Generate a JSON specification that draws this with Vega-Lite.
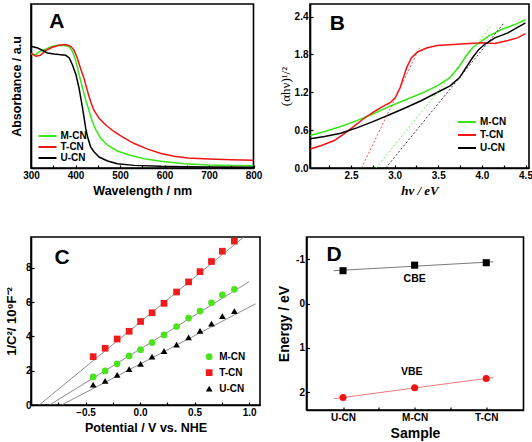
{
"$schema": "https://vega.github.io/schema/vega-lite/v6.json",
"padding": {"left": 4, "top": 3, "right": 0, "bottom": 0},
"background": "white",
"config": {
  "view": {"stroke": "black", "strokeWidth": 1.6},
  "font": "Liberation Sans",
  "axis": {"domainColor": "black", "domainWidth": 1.6, "tickColor": "black", "tickWidth": 1.2, "tickSize": -3, "labelFont": "Liberation Sans", "labelFontWeight": "bold", "labelFontSize": 10, "labelColor": "black", "titleFont": "Liberation Sans", "titleFontWeight": "bold", "titleFontSize": 12.5, "titleColor": "black", "grid": false, "labelPadding": 5, "titlePadding": 4, "labelFlush": false, "labelOverlap": false},
  "legend": {"labelFont": "Liberation Sans", "labelFontWeight": "bold", "labelFontSize": 10, "labelColor": "black", "padding": 0, "rowPadding": 0, "titlePadding": 0}
},
"resolve": {"scale": {"color": "independent", "shape": "independent", "fill": "independent", "size": "independent"}, "legend": {"color": "independent", "shape": "independent", "fill": "independent"}},
"datasets": {
  "absA": [
    {"s":"M-CN","nm":300,"a":0.695},{"s":"M-CN","nm":311,"a":0.691},{"s":"M-CN","nm":318,"a":0.708},{"s":"M-CN","nm":330,"a":0.722},{"s":"M-CN","nm":345,"a":0.739},{"s":"M-CN","nm":360,"a":0.749},{"s":"M-CN","nm":375,"a":0.747},{"s":"M-CN","nm":386,"a":0.739},{"s":"M-CN","nm":393,"a":0.712},{"s":"M-CN","nm":401,"a":0.651},{"s":"M-CN","nm":408,"a":0.569},{"s":"M-CN","nm":416,"a":0.487},{"s":"M-CN","nm":423,"a":0.415},{"s":"M-CN","nm":431,"a":0.344},{"s":"M-CN","nm":438,"a":0.282},{"s":"M-CN","nm":446,"a":0.231},{"s":"M-CN","nm":457,"a":0.180},{"s":"M-CN","nm":472,"a":0.139},{"s":"M-CN","nm":494,"a":0.104},{"s":"M-CN","nm":517,"a":0.082},{"s":"M-CN","nm":554,"a":0.057},{"s":"M-CN","nm":592,"a":0.041},{"s":"M-CN","nm":644,"a":0.026},{"s":"M-CN","nm":700,"a":0.018},{"s":"M-CN","nm":750,"a":0.015},{"s":"M-CN","nm":800,"a":0.013},
    {"s":"T-CN","nm":300,"a":0.701},{"s":"T-CN","nm":311,"a":0.681},{"s":"T-CN","nm":321,"a":0.687},{"s":"T-CN","nm":333,"a":0.716},{"s":"T-CN","nm":348,"a":0.736},{"s":"T-CN","nm":363,"a":0.749},{"s":"T-CN","nm":378,"a":0.753},{"s":"T-CN","nm":389,"a":0.742},{"s":"T-CN","nm":396,"a":0.722},{"s":"T-CN","nm":404,"a":0.671},{"s":"T-CN","nm":411,"a":0.610},{"s":"T-CN","nm":419,"a":0.548},{"s":"T-CN","nm":426,"a":0.477},{"s":"T-CN","nm":434,"a":0.405},{"s":"T-CN","nm":441,"a":0.354},{"s":"T-CN","nm":453,"a":0.303},{"s":"T-CN","nm":468,"a":0.262},{"s":"T-CN","nm":487,"a":0.221},{"s":"T-CN","nm":509,"a":0.184},{"s":"T-CN","nm":532,"a":0.149},{"s":"T-CN","nm":562,"a":0.115},{"s":"T-CN","nm":592,"a":0.088},{"s":"T-CN","nm":622,"a":0.072},{"s":"T-CN","nm":652,"a":0.061},{"s":"T-CN","nm":700,"a":0.055},{"s":"T-CN","nm":750,"a":0.050},{"s":"T-CN","nm":800,"a":0.048},
    {"s":"U-CN","nm":300,"a":0.742},{"s":"U-CN","nm":315,"a":0.732},{"s":"U-CN","nm":330,"a":0.712},{"s":"U-CN","nm":337,"a":0.701},{"s":"U-CN","nm":352,"a":0.695},{"s":"U-CN","nm":367,"a":0.691},{"s":"U-CN","nm":378,"a":0.687},{"s":"U-CN","nm":386,"a":0.671},{"s":"U-CN","nm":393,"a":0.630},{"s":"U-CN","nm":401,"a":0.569},{"s":"U-CN","nm":408,"a":0.487},{"s":"U-CN","nm":412,"a":0.425},{"s":"U-CN","nm":416,"a":0.364},{"s":"U-CN","nm":419.5,"a":0.302},{"s":"U-CN","nm":423,"a":0.241},{"s":"U-CN","nm":427,"a":0.190},{"s":"U-CN","nm":434,"a":0.129},{"s":"U-CN","nm":442,"a":0.098},{"s":"U-CN","nm":453,"a":0.067},{"s":"U-CN","nm":472,"a":0.043},{"s":"U-CN","nm":494,"a":0.026},{"s":"U-CN","nm":532,"a":0.016},{"s":"U-CN","nm":592,"a":0.010},{"s":"U-CN","nm":644,"a":0.008},{"s":"U-CN","nm":700,"a":0.006},{"s":"U-CN","nm":800,"a":0.005}
  ],
  "absB": [
    {"s":"M-CN","e":2.033,"v":0.515},{"s":"M-CN","e":2.198,"v":0.578},{"s":"M-CN","e":2.382,"v":0.657},{"s":"M-CN","e":2.566,"v":0.751},{"s":"M-CN","e":2.751,"v":0.856},{"s":"M-CN","e":2.934,"v":0.972},{"s":"M-CN","e":3.119,"v":1.077},{"s":"M-CN","e":3.303,"v":1.181},{"s":"M-CN","e":3.487,"v":1.302},{"s":"M-CN","e":3.635,"v":1.433},{"s":"M-CN","e":3.745,"v":1.617},{"s":"M-CN","e":3.818,"v":1.775},{"s":"M-CN","e":3.892,"v":1.906},{"s":"M-CN","e":3.966,"v":1.984},{"s":"M-CN","e":4.077,"v":2.09},{"s":"M-CN","e":4.224,"v":2.195},{"s":"M-CN","e":4.371,"v":2.27},{"s":"M-CN","e":4.5,"v":2.35},
    {"s":"T-CN","e":2.033,"v":0.30},{"s":"T-CN","e":2.161,"v":0.357},{"s":"T-CN","e":2.309,"v":0.436},{"s":"T-CN","e":2.419,"v":0.541},{"s":"T-CN","e":2.53,"v":0.657},{"s":"T-CN","e":2.64,"v":0.777},{"s":"T-CN","e":2.751,"v":0.882},{"s":"T-CN","e":2.861,"v":0.972},{"s":"T-CN","e":2.953,"v":1.039},{"s":"T-CN","e":3.008,"v":1.118},{"s":"T-CN","e":3.064,"v":1.276},{"s":"T-CN","e":3.1,"v":1.433},{"s":"T-CN","e":3.138,"v":1.591},{"s":"T-CN","e":3.193,"v":1.748},{"s":"T-CN","e":3.266,"v":1.843},{"s":"T-CN","e":3.376,"v":1.906},{"s":"T-CN","e":3.487,"v":1.943},{"s":"T-CN","e":3.671,"v":1.959},{"s":"T-CN","e":3.856,"v":1.974},{"s":"T-CN","e":4.003,"v":1.984},{"s":"T-CN","e":4.15,"v":1.975},{"s":"T-CN","e":4.298,"v":2.022},{"s":"T-CN","e":4.408,"v":2.063},{"s":"T-CN","e":4.5,"v":2.13},
    {"s":"U-CN","e":2.033,"v":0.463},{"s":"U-CN","e":2.198,"v":0.499},{"s":"U-CN","e":2.382,"v":0.551},{"s":"U-CN","e":2.566,"v":0.636},{"s":"U-CN","e":2.751,"v":0.735},{"s":"U-CN","e":2.934,"v":0.841},{"s":"U-CN","e":3.119,"v":0.951},{"s":"U-CN","e":3.303,"v":1.066},{"s":"U-CN","e":3.487,"v":1.197},{"s":"U-CN","e":3.635,"v":1.302},{"s":"U-CN","e":3.745,"v":1.433},{"s":"U-CN","e":3.818,"v":1.591},{"s":"U-CN","e":3.892,"v":1.748},{"s":"U-CN","e":3.966,"v":1.88},{"s":"U-CN","e":4.04,"v":1.969},{"s":"U-CN","e":4.15,"v":2.063},{"s":"U-CN","e":4.298,"v":2.142},{"s":"U-CN","e":4.5,"v":2.3}
  ],
  "tangB": [
    {"s":"T-CN","e":2.62,"v":0},{"s":"T-CN","e":3.285,"v":1.906},
    {"s":"M-CN","e":2.787,"v":0},{"s":"M-CN","e":4.113,"v":2.263},
    {"s":"U-CN","e":2.898,"v":0},{"s":"U-CN","e":4.26,"v":2.31}
  ],
  "mott": [
    {"s":"M-CN","p":-0.43,"c":1.64},{"s":"M-CN","p":-0.32,"c":1.99},{"s":"M-CN","p":-0.21,"c":2.40},{"s":"M-CN","p":-0.10,"c":2.86},{"s":"M-CN","p":0.005,"c":3.23},{"s":"M-CN","p":0.11,"c":3.64},{"s":"M-CN","p":0.22,"c":4.09},{"s":"M-CN","p":0.335,"c":4.58},{"s":"M-CN","p":0.445,"c":5.07},{"s":"M-CN","p":0.55,"c":5.48},{"s":"M-CN","p":0.655,"c":5.96},{"s":"M-CN","p":0.755,"c":6.42},{"s":"M-CN","p":0.865,"c":6.75},
    {"s":"T-CN","p":-0.43,"c":2.82},{"s":"T-CN","p":-0.32,"c":3.31},{"s":"T-CN","p":-0.21,"c":3.85},{"s":"T-CN","p":-0.10,"c":4.30},{"s":"T-CN","p":0.005,"c":4.87},{"s":"T-CN","p":0.11,"c":5.38},{"s":"T-CN","p":0.22,"c":5.93},{"s":"T-CN","p":0.335,"c":6.59},{"s":"T-CN","p":0.445,"c":7.18},{"s":"T-CN","p":0.55,"c":7.78},{"s":"T-CN","p":0.655,"c":8.37},{"s":"T-CN","p":0.755,"c":8.97},{"s":"T-CN","p":0.865,"c":9.56},
    {"s":"U-CN","p":-0.43,"c":1.19},{"s":"U-CN","p":-0.32,"c":1.41},{"s":"U-CN","p":-0.21,"c":1.76},{"s":"U-CN","p":-0.10,"c":2.09},{"s":"U-CN","p":0.005,"c":2.40},{"s":"U-CN","p":0.11,"c":2.82},{"s":"U-CN","p":0.22,"c":3.15},{"s":"U-CN","p":0.335,"c":3.52},{"s":"U-CN","p":0.445,"c":3.95},{"s":"U-CN","p":0.55,"c":4.32},{"s":"U-CN","p":0.655,"c":4.75},{"s":"U-CN","p":0.755,"c":5.18},{"s":"U-CN","p":0.865,"c":5.48}
  ],
  "mottFit": [
    {"s":"T-CN","p":-0.925,"c":0},{"s":"T-CN","p":0.97,"c":9.9},
    {"s":"M-CN","p":-0.83,"c":0},{"s":"M-CN","p":1.0,"c":7.19},
    {"s":"U-CN","p":-0.72,"c":0},{"s":"U-CN","p":1.06,"c":5.9}
  ],
  "band": [
    {"b":"CBE","x":1,"e":-0.74},{"b":"CBE","x":2,"e":-0.865},{"b":"CBE","x":3,"e":-0.92},
    {"b":"VBE","x":1,"e":2.12},{"b":"VBE","x":2,"e":1.9},{"b":"VBE","x":3,"e":1.69}
  ],
  "bandFit": [
    {"b":"CBE","x":0.87,"e":-0.74},{"b":"CBE","x":3.1,"e":-0.941},
    {"b":"VBE","x":0.87,"e":2.146},{"b":"VBE","x":3.1,"e":1.667}
  ]
},
"spacing": 32,
"vconcat": [
  {"hconcat": [
    {"width": 222.5, "height": 164,
     "resolve": {"axis": {"x": "independent"}},
     "layer": [
      {"data": {"name": "absA"}, "mark": {"type": "line", "strokeWidth": 1.5},
       "encoding": {
        "x": {"field": "nm", "type": "quantitative", "scale": {"domain": [300, 800], "nice": false, "zero": false},
              "axis": {"title": "Wavelength / nm", "orient": "bottom", "values": [300,400,500,600,700,800], "format": "d"}},
        "y": {"field": "a", "type": "quantitative", "scale": {"domain": [0, 1], "nice": false},
              "axis": {"title": "Absorbance / a.u", "labels": false, "ticks": false, "titlePadding": 8}},
        "color": {"field": "s", "type": "nominal", "scale": {"domain": ["M-CN", "T-CN", "U-CN"], "range": ["#39e617", "#f01414", "#000000"]},
                  "legend": {"title": null, "orient": "none", "legendX": 6.5, "legendY": 126.75, "symbolSize": 324, "symbolStrokeWidth": 2, "clipHeight": 10.5, "labelOffset": 3}}
       }},
      {"data": {"values": [{"t": "A", "x": 358, "y": 0.893}]}, "mark": {"type": "text", "fontSize": 21, "fontWeight": "bold", "align": "center", "baseline": "middle", "color": "black"},
       "encoding": {"x": {"field": "x", "type": "quantitative", "axis": {"orient": "bottom", "values": [350,450,550,650,750], "labels": false, "domain": false, "title": null}}, "y": {"field": "y", "type": "quantitative"}, "text": {"field": "t"}}}
     ]},
    {"width": 219, "height": 164,
     "resolve": {"axis": {"x": "independent"}},
     "layer": [
      {"data": {"name": "absB"}, "mark": {"type": "line", "strokeWidth": 1.5},
       "encoding": {
        "x": {"field": "e", "type": "quantitative", "scale": {"domain": [2.03, 4.54], "nice": false, "zero": false},
              "axis": {"title": "hν / eV", "orient": "bottom", "titleFont": "Liberation Serif", "titleFontStyle": "italic", "titleFontSize": 13, "values": [2.5,3,3.5,4,4.5], "format": ".1f"}},
        "y": {"field": "v", "type": "quantitative", "scale": {"domain": [0, 2.6], "nice": false},
              "axis": {"title": "(αhν)¹/²", "titleFont": "Liberation Serif", "titleFontWeight": "normal", "titleFontSize": 13, "titlePadding": 2, "values": [0,0.3,0.6,0.9,1.2,1.5,1.8,2.1,2.4], "labelExpr": "abs(datum.value/0.6 - round(datum.value/0.6)) < 0.001 ? format(datum.value, '.1f') : ''"}},
        "color": {"field": "s", "type": "nominal", "scale": {"domain": ["M-CN", "T-CN", "U-CN"], "range": ["#39e617", "#f01414", "#000000"]},
                  "legend": {"title": null, "orient": "none", "legendX": 147, "legendY": 111.75, "symbolSize": 324, "symbolStrokeWidth": 2, "clipHeight": 12.5, "labelOffset": 3}}
       }},
      {"data": {"name": "tangB"}, "mark": {"type": "line", "strokeWidth": 1, "strokeDash": [2, 2], "opacity": 0.75},
       "encoding": {"x": {"field": "e", "type": "quantitative", "axis": null}, "y": {"field": "v", "type": "quantitative"}, "color": {"field": "s", "type": "nominal", "legend": null}}},
      {"data": {"values": [{"t": "B", "x": 2.343, "y": 2.29}]}, "mark": {"type": "text", "fontSize": 21, "fontWeight": "bold", "align": "center", "baseline": "middle", "color": "black"},
       "encoding": {"x": {"field": "x", "type": "quantitative", "axis": {"orient": "bottom", "values": [2.25,2.75,3.25,3.75,4.25], "labels": false, "domain": false, "title": null}}, "y": {"field": "y", "type": "quantitative"}, "text": {"field": "t"}}}
     ]}
  ], "spacing": 15,
  "resolve": {"scale": {"color": "independent"}, "legend": {"color": "independent"}}},
  {"hconcat": [
    {"width": 229, "height": 168,
     "title": {"text": "C", "color": "transparent", "fontSize": 1, "offset": 5},
     "resolve": {"axis": {"x": "independent"}},
     "layer": [
      {"data": {"name": "mottFit"}, "mark": {"type": "line", "strokeWidth": 0.9, "color": "#808080", "clip": true},
       "encoding": {
        "x": {"field": "p", "type": "quantitative", "scale": {"domain": [-1, 1.1], "nice": false, "zero": false},
              "axis": {"title": "Potential / V vs. NHE", "orient": "bottom", "values": [-0.5,0,0.5,1], "format": ".1f"}},
        "y": {"field": "c", "type": "quantitative", "scale": {"domain": [0, 9.8], "nice": false},
              "axis": {"title": "1/C²/ 10⁹F⁻²", "titleFontSize": 13, "labelPadding": 3, "titlePadding": 7, "values": [0,1,2,3,4,5,6,7,8,9], "labelExpr": "datum.value % 2 === 0 ? '' + datum.value : ''"}},
        "detail": {"field": "s"}
       }},
      {"data": {"name": "mott"}, "mark": {"type": "point", "filled": true, "opacity": 1, "size": 45},
       "encoding": {
        "x": {"field": "p", "type": "quantitative", "axis": null},
        "y": {"field": "c", "type": "quantitative"},
        "color": {"field": "s", "type": "nominal", "scale": {"domain": ["M-CN", "T-CN", "U-CN"], "range": ["#4be21e", "#f01c1c", "#000000"]},
                  "legend": {"title": null, "orient": "none", "legendX": 173.2, "legendY": 111.7, "symbolSize": 45, "clipHeight": 16, "labelOffset": 5}},
        "shape": {"field": "s", "type": "nominal", "scale": {"domain": ["M-CN", "T-CN", "U-CN"], "range": ["circle", "square", "triangle-up"]},
                  "legend": {"title": null, "orient": "none", "legendX": 173.2, "legendY": 111.7, "symbolSize": 45, "clipHeight": 16, "labelOffset": 5}}
       }},
      {"data": {"values": [{"t": "C", "x": -0.716, "y": 8.55}]}, "mark": {"type": "text", "fontSize": 21, "fontWeight": "bold", "align": "center", "baseline": "middle", "color": "black"},
       "encoding": {"x": {"field": "x", "type": "quantitative", "axis": {"orient": "bottom", "values": [-0.75,-0.25,0.25,0.75], "labels": false, "domain": false, "title": null}}, "y": {"field": "y", "type": "quantitative"}, "text": {"field": "t"}}}
     ]},
    {"width": 217, "height": 173,
     "layer": [
      {"data": {"name": "bandFit"}, "mark": {"type": "line", "strokeWidth": 1},
       "encoding": {
        "x": {"field": "x", "type": "quantitative", "scale": {"domain": [0.49, 3.52], "nice": false, "zero": false},
              "axis": {"title": "Sample", "titleFontSize": 14, "values": [1,1.5,2,2.5,3], "labelExpr": "datum.value === 1 ? 'U-CN' : datum.value === 2 ? 'M-CN' : datum.value === 3 ? 'T-CN' : ''"}},
        "y": {"field": "e", "type": "quantitative", "scale": {"domain": [-1.5, 2.4], "nice": false, "zero": false, "reverse": true},
              "axis": {"title": "Energy / eV", "titleFontSize": 14, "values": [-1,-0.5,0,0.5,1,1.5,2], "labelExpr": "datum.value % 1 === 0 ? '' + datum.value : ''"}},
        "color": {"field": "b", "type": "nominal", "scale": {"domain": ["CBE", "VBE"], "range": ["#7a7a7a", "#f07a7a"]}, "legend": null}
       }},
      {"data": {"name": "band"}, "mark": {"type": "point", "filled": true, "opacity": 1, "size": 50},
       "encoding": {
        "x": {"field": "x", "type": "quantitative"},
        "y": {"field": "e", "type": "quantitative"},
        "fill": {"field": "b", "type": "nominal", "scale": {"domain": ["CBE", "VBE"], "range": ["#000000", "#f01414"]}, "legend": null},
        "shape": {"field": "b", "type": "nominal", "scale": {"domain": ["CBE", "VBE"], "range": ["square", "circle"]}, "legend": null}
       }},
      {"data": {"values": [{"t": "D", "x": 0.874, "y": -1.083, "f": 21}, {"t": "CBE", "x": 2.0, "y": -0.554, "f": 10.5}, {"t": "VBE", "x": 1.96, "y": 1.54, "f": 10.5}]},
       "mark": {"type": "text", "fontWeight": "bold", "align": "center", "baseline": "middle", "color": "black"},
       "encoding": {"x": {"field": "x", "type": "quantitative"}, "y": {"field": "y", "type": "quantitative"}, "text": {"field": "t"}, "size": {"field": "f", "type": "quantitative", "scale": null}}}
     ]}
  ], "spacing": 15.5,
  "resolve": {"scale": {"color": "independent", "shape": "independent", "fill": "independent", "size": "independent"}, "legend": {"color": "independent", "shape": "independent", "fill": "independent"}}}
]
}
